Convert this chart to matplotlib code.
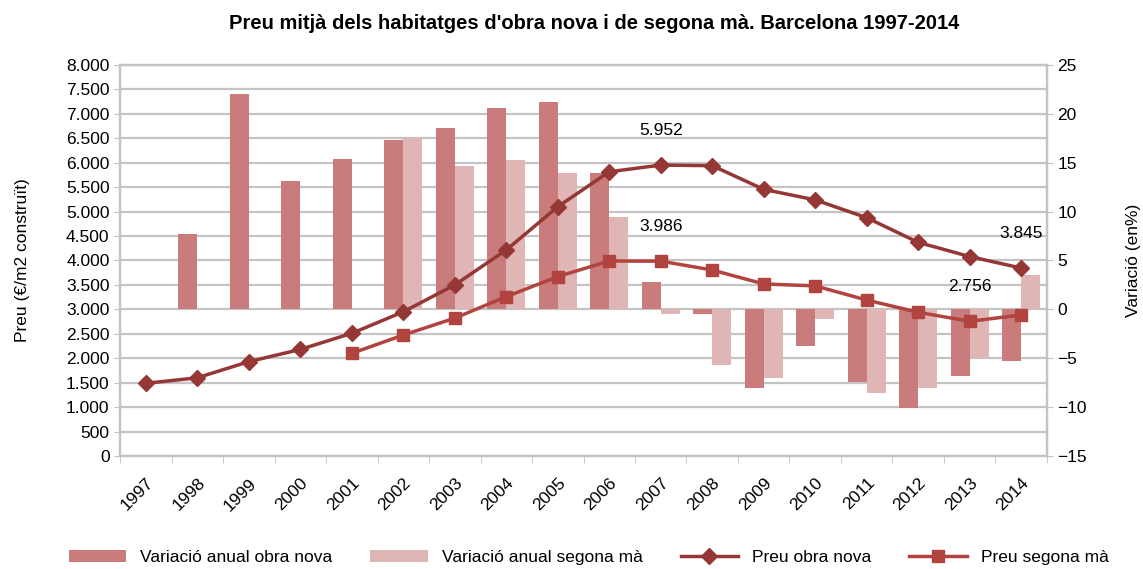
import matplotlib.pyplot as plt
import numpy as np
from matplotlib.ticker import FuncFormatter

plt.rcParams['font.family'] = ['Liberation Sans', 'DejaVu Sans']

anys = ['1997', '1998', '1999', '2000', '2001', '2002', '2003', '2004', '2005',
        '2006', '2007', '2008', '2009', '2010', '2011', '2012', '2013', '2014']

# Preu (€/m2)
preu_nova = [1487, 1600, 1930, 2180, 2510, 2950, 3500, 4215, 5100,
             5815, 5952, 5940, 5455, 5240, 4875, 4370, 4080, 3845]
preu_segona = [np.nan, np.nan, np.nan, np.nan, 2100, 2475, 2820, 3260, 3670,
               3990, 3986, 3805, 3520, 3480, 3190, 2940, 2756, 2885]

# Variació anual (%)
var_nova = [np.nan, 7.7, 22.0, 13.1, 15.4, 17.3, 18.6, 20.6, 21.2,
            14.0, 2.8, -0.5, -8.0, -3.7, -7.4, -10.1, -6.8, -5.3]
var_segona = [np.nan, np.nan, np.nan, np.nan, np.nan, 17.5, 14.7, 15.3, 13.9,
              9.4, -0.5, -5.7, -7.0, -1.0, -8.6, -8.0, -5.0, 3.5]

c_bar_nova = '#C97C7B'
c_bar_segona = '#DFB6B5'
c_line_nova = '#953735'
c_line_segona = '#B2443F'
c_grid = '#C4C4C4'

x = np.arange(len(anys))
w = 0.37

fig = plt.figure(figsize=(11.43, 5.69), dpi=100)
ax1 = fig.add_axes([0.105, 0.1986, 0.811, 0.6872])
ax2 = ax1.twinx()
ax1.set_zorder(ax2.get_zorder() + 1)
ax1.patch.set_visible(False)

# barres (eix dret)
ax2.bar(x - w / 2, var_nova, w, color=c_bar_nova, label='Variació anual obra nova', zorder=2)
ax2.bar(x + w / 2, var_segona, w, color=c_bar_segona, label='Variació anual segona mà', zorder=2)
ax2.set_ylim(-15, 25)
ax2.set_yticks(np.arange(-15, 26, 5))
ax2.set_yticks(np.arange(-15, 26, 2.5), minor=True)
ax2.grid(True, which='both', axis='y', color=c_grid, lw=1.6, zorder=0)
ax2.set_xticks(np.arange(-0.5, len(anys), 1), minor=True)
ax2.grid(True, which='minor', axis='x', color=c_grid, lw=1.6, zorder=0)
ax2.set_axisbelow(True)
ax2.tick_params(axis='y', which='minor', length=0)
ax2.tick_params(axis='y', which='major', length=4, color=c_grid, labelsize=12.5)
ax2.set_ylabel('Variació (en%)', fontsize=12.5, labelpad=28)

# línies (eix esquerre)
ax1.plot(x, preu_nova, color=c_line_nova, lw=2.5, marker='D', ms=8.5,
         label='Preu obra nova')
ax1.plot(x, preu_segona, color=c_line_segona, lw=2.5, marker='s', ms=8,
         label='Preu segona mà')
ax1.set_ylim(0, 8000)
ax1.set_yticks(np.arange(0, 8001, 500))
ax1.yaxis.set_major_formatter(FuncFormatter(lambda v, p: f'{int(v):,}'.replace(',', '.')))
ax1.tick_params(axis='y', length=4, color=c_grid, labelsize=12.5)
ax1.set_ylabel('Preu (€/m2 construït)', fontsize=12.5, labelpad=26)

ax1.set_xlim(-0.5, len(anys) - 0.5)
ax1.set_xticks(x)
ax1.set_xticklabels(anys, rotation=45, ha='right', rotation_mode='anchor', fontsize=12.5)
ax1.set_xticks(np.arange(-0.5, len(anys), 1), minor=True)
ax1.tick_params(axis='x', which='major', length=0, pad=14)
ax1.tick_params(axis='x', which='minor', length=5, color=c_grid)

for ax in (ax1, ax2):
    for s in ax.spines.values():
        s.set_color(c_grid)
        s.set_linewidth(1.6)

# etiquetes
def fmt(v):
    return f'{int(v):,}'.replace(',', '.')

for i, off in [(10, 22), (17, 22)]:
    ax1.annotate(fmt(preu_nova[i]), (x[i], preu_nova[i]), xytext=(0, off),
                 textcoords='offset points', ha='center', fontsize=12.5)
for i, off in [(10, 22), (16, 22)]:
    ax1.annotate(fmt(preu_segona[i]), (x[i], preu_segona[i]), xytext=(0, off),
                 textcoords='offset points', ha='center', fontsize=12.5)

fig.suptitle("Preu mitjà dels habitatges d'obra nova i de segona mà. Barcelona 1997-2014",
             fontsize=14.5, fontweight='bold', x=0.52, y=0.975)

h2, l2 = ax2.get_legend_handles_labels()
h1, l1 = ax1.get_legend_handles_labels()
fig.legend(h2 + h1, l2 + l1, loc='lower center', ncol=4, frameon=False,
           fontsize=12.5, bbox_to_anchor=(0.515, -0.02), columnspacing=2.2,
           handlelength=3.3)

plt.savefig('out.png')
